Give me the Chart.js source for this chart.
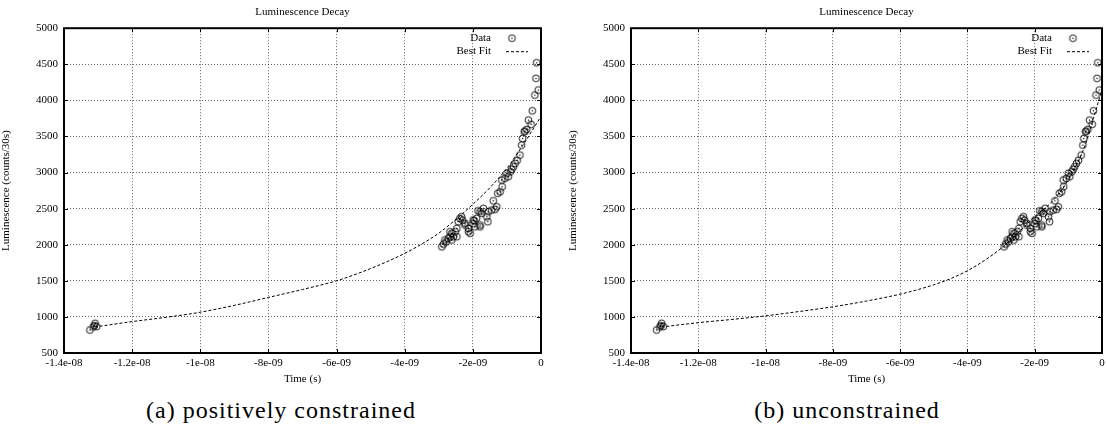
<!DOCTYPE html>
<html>
<head>
<meta charset="utf-8">
<script src="https://cdn.jsdelivr.net/npm/chart.js@4.4.0/dist/chart.umd.min.js"></script>
<style>
body { margin: 0; background: #fff; width: 1107px; height: 429px; position: relative; overflow: hidden; }
canvas { position: absolute; top: 0; }
#chartA { left: 0; }
#chartB { left: 567px; }
.caption { position: absolute; top: 397px; font-family: 'Liberation Serif', serif; font-size: 24px; letter-spacing: 1px; color: #000; white-space: nowrap; transform: translateX(-50%); }
</style>
</head>
<body>
<canvas id="chartA" width="553" height="390"></canvas>
<canvas id="chartB" width="540" height="390"></canvas>
<div class="caption" style="left:281px">(a) positively constrained</div>
<div class="caption" style="left:847px">(b) unconstrained</div>
<script>
// measured data (time in ns, luminescence in counts/30s)
const dataTime = [
    -13.24, -13.14, -13.11, -13.09, -13.04,
    -2.91, -2.86, -2.82, -2.78, -2.72, -2.67, -2.67, -2.62, -2.62, -2.57,
    -2.52, -2.47, -2.47, -2.43, -2.38, -2.33, -2.30, -2.23, -2.23, -2.13,
    -2.13, -2.08, -2.00, -1.99, -1.96, -1.94, -1.89, -1.85, -1.79, -1.79,
    -1.79, -1.74, -1.69, -1.59, -1.56, -1.55, -1.45, -1.40, -1.35, -1.30,
    -1.27, -1.20, -1.15, -1.14, -1.06, -1.00, -0.96, -0.90, -0.86, -0.81,
    -0.76, -0.70, -0.62, -0.57, -0.54, -0.49, -0.47, -0.42, -0.37, -0.29,
    -0.255, -0.18, -0.147, -0.126, -0.08
];
const dataLum = [
    818, 862, 880, 912, 866,
    1972, 2010, 2065, 2040, 2089, 2111, 2180, 2065, 2158, 2111,
    2180, 2227, 2111, 2319, 2366, 2388, 2340, 2296, 2273, 2180,
    2227, 2158, 2290, 2342, 2332, 2249, 2366, 2470, 2273, 2249,
    2457, 2435, 2504, 2388, 2319, 2457, 2480, 2609, 2490, 2526,
    2712, 2734, 2896, 2803, 2920, 2990, 2942, 3010, 3044, 3080,
    3127, 3170, 3242, 3380, 3473, 3565, 3575, 3598, 3727, 3668,
    3856, 4073, 4305, 4521, 4143
];

// best fit curves
const fitTime = [-13.1, -12, -11, -10, -9, -8, -7, -6, -5.5, -5, -4.5, -4, -3.5, -3, -2.5, -2, -1.5, -1, -0.5, -0.25, 0];
const fitConstrained = [860, 935, 995, 1065, 1160, 1270, 1380, 1500, 1580, 1670, 1770, 1880, 2010, 2160, 2350, 2560, 2790, 3060, 3400, 3590, 3780];
const fitUnconstrained = [860, 920, 965, 1015, 1075, 1140, 1220, 1315, 1375, 1445, 1530, 1640, 1780, 1950, 2160, 2390, 2590, 2900, 3380, 3760, 4150];

const xTickValues = [-14, -12, -10, -8, -6, -4, -2, 0];
const xTickLabels = ['-1.4e-08', '-1.2e-08', '-1e-08', '-8e-09', '-6e-09', '-4e-09', '-2e-09', '0'];
const yTickValues = [500, 1000, 1500, 2000, 2500, 3000, 3500, 4000, 4500, 5000];

const FONT = "'Liberation Serif', 'Times New Roman', serif";
Chart.defaults.font.family = FONT;
Chart.defaults.color = '#000';

// gnuplot style circle with a dot in the middle
const marker = document.createElement('canvas');
marker.width = 11;
marker.height = 11;
(function () {
    const c = marker.getContext('2d');
    c.strokeStyle = '#000';
    c.lineWidth = 0.9;
    c.beginPath();
    c.arc(5.5, 5.5, 3.4, 0, Math.PI * 2);
    c.stroke();
    c.fillStyle = '#000';
    c.beginPath();
    c.arc(5.5, 5.5, 0.75, 0, Math.PI * 2);
    c.fill();
})();

// border box, inward tick marks and the right-aligned legend
const framePlugin = {
    id: 'frame',
    afterDraw(chart) {
        const { ctx, chartArea: a, scales } = chart;
        ctx.save();
        ctx.strokeStyle = '#000';
        ctx.lineWidth = 1;
        ctx.beginPath();
        xTickValues.forEach(v => {
            const px = Math.round(scales.x.getPixelForValue(v)) + 0.5;
            ctx.moveTo(px, a.bottom); ctx.lineTo(px, a.bottom - 4);
            ctx.moveTo(px, a.top); ctx.lineTo(px, a.top + 4);
        });
        yTickValues.forEach(v => {
            const py = Math.round(scales.y.getPixelForValue(v)) + 0.5;
            ctx.moveTo(a.left, py); ctx.lineTo(a.left + 4, py);
            ctx.moveTo(a.right, py); ctx.lineTo(a.right - 4, py);
        });
        ctx.stroke();
        ctx.lineWidth = 2;
        ctx.strokeRect(a.left, a.top, a.right - a.left, a.bottom - a.top);

        // legend
        ctx.font = '11px ' + FONT;
        ctx.fillStyle = '#000';
        ctx.textAlign = 'right';
        ctx.textBaseline = 'middle';
        ctx.fillText('Data', a.right - 50, a.top + 10);
        ctx.fillText('Best Fit', a.right - 50, a.top + 23);
        ctx.drawImage(marker, a.right - 34.5, a.top + 4.5);
        ctx.lineWidth = 1;
        ctx.setLineDash([3, 2]);
        ctx.beginPath();
        ctx.moveTo(a.right - 35, a.top + 23.5);
        ctx.lineTo(a.right - 13, a.top + 23.5);
        ctx.stroke();
        ctx.restore();
    }
};

function makeChart(id, fitValues, padRight) {
    const ctx = document.getElementById(id).getContext('2d');
    return new Chart(ctx, {
        type: 'scatter',
        data: {
            datasets: [
                {
                    label: 'Data',
                    data: dataTime.map((t, i) => ({ x: t, y: dataLum[i] })),
                    pointStyle: marker,
                    pointRadius: 4,
                    showLine: false,
                    order: 1
                },
                {
                    type: 'line',
                    label: 'Best Fit',
                    data: fitTime.map((t, i) => ({ x: t, y: fitValues[i] })),
                    borderColor: '#000',
                    borderWidth: 1,
                    borderDash: [3, 2],
                    pointRadius: 0,
                    fill: false,
                    cubicInterpolationMode: 'monotone',
                    order: 2
                }
            ]
        },
        options: {
            responsive: false,
            animation: false,
            devicePixelRatio: 1,
            layout: { padding: { left: 0, right: padRight, top: 0, bottom: 0 } },
            plugins: {
                legend: { display: false },
                tooltip: { enabled: false },
                title: {
                    display: true,
                    text: 'Luminescence Decay',
                    fullSize: false,
                    color: '#000',
                    font: { family: FONT, size: 11, weight: 'normal' },
                    padding: { top: 6, bottom: 9 }
                }
            },
            scales: {
                x: {
                    type: 'linear',
                    min: -14,
                    max: 0,
                    afterBuildTicks: s => { s.ticks = xTickValues.map(v => ({ value: v })); },
                    afterFit: s => { s.height = 37; s.paddingLeft = 0; s.paddingRight = 0; },
                    ticks: {
                        color: '#000',
                        font: { family: FONT, size: 11 },
                        padding: 4,
                        maxRotation: 0,
                        autoSkip: false,
                        callback: (v, i) => xTickLabels[i]
                    },
                    grid: { color: 'rgba(0,0,0,0.6)', lineWidth: 1, drawTicks: false },
                    border: { display: false, dash: [1, 2] },
                    title: {
                        display: true,
                        text: 'Time (s)',
                        color: '#000',
                        font: { family: FONT, size: 11 },
                        padding: { top: 0, bottom: 4 }
                    }
                },
                y: {
                    type: 'linear',
                    min: 500,
                    max: 5000,
                    afterBuildTicks: s => { s.ticks = yTickValues.map(v => ({ value: v })); },
                    afterFit: s => { s.width = 64; s.paddingTop = 0; s.paddingBottom = 0; },
                    ticks: {
                        color: '#000',
                        font: { family: FONT, size: 11 },
                        padding: 6,
                        callback: v => String(v)
                    },
                    grid: { color: 'rgba(0,0,0,0.6)', lineWidth: 1, drawTicks: false },
                    border: { display: false, dash: [1, 2] },
                    title: {
                        display: true,
                        text: 'Luminescence (counts/30s)',
                        color: '#000',
                        font: { family: FONT, size: 11 },
                        padding: { top: 0, bottom: 6 }
                    }
                }
            }
        },
        plugins: [framePlugin]
    });
}

makeChart('chartA', fitConstrained, 12);
makeChart('chartB', fitUnconstrained, 1);
</script>
</body>
</html>
